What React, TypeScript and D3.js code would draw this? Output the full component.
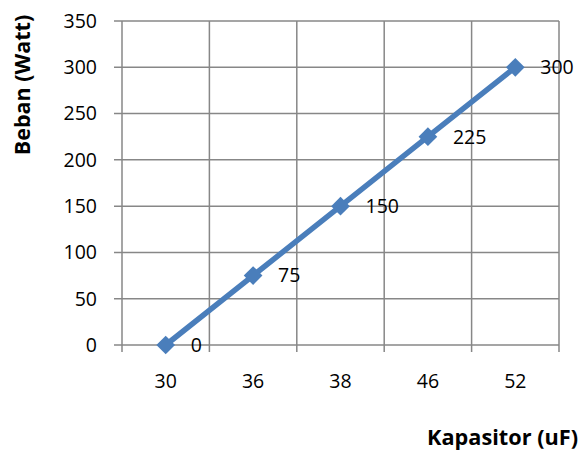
import React from "react";
import * as d3 from "d3";

const categories = ["30", "36", "38", "46", "52"];
const values = [0, 75, 150, 225, 300];
const yTicks = [0, 50, 100, 150, 200, 250, 300, 350];

const W = 582;
const H = 450;
const left = 122;
const right = 559;
const top = 21;
const bottom = 345;
const FONT = "'Open Sans', 'Liberation Sans', sans-serif";
const GRID = "#878787";
const BLUE = "#4A7EBB";

export default function App() {
  const x = d3.scaleBand<string>().domain(categories).range([left, right]).padding(0);
  const y = d3.scaleLinear().domain([0, 350]).range([bottom, top]);
  const cx = (c: string) => (x(c) as number) + x.bandwidth() / 2;
  const line = d3
    .line<number>()
    .x((_, i) => cx(categories[i]))
    .y((d) => y(d));
  const diamond = d3.symbol().type(d3.symbolSquare).size(175)() as string;
  const bounds = [...categories.map((c) => x(c) as number), right];

  return (
    <svg width={W} height={H} style={{ position: "absolute", left: 0, top: 0, background: "#fff" }}>
      {yTicks.map((t) => (
        <line key={"h" + t} x1={left - 8} x2={right} y1={y(t)} y2={y(t)} stroke={GRID} strokeWidth={1.5} />
      ))}
      {bounds.map((b, i) => (
        <line key={"v" + i} x1={b} x2={b} y1={top} y2={bottom + 7} stroke={GRID} strokeWidth={1.5} />
      ))}
      {yTicks.map((t) => (
        <text key={"yl" + t} x={97} y={y(t)} dy="0.35em" textAnchor="end" fontFamily={FONT} fontSize={19.5} fill="#000">
          {t}
        </text>
      ))}
      {categories.map((c) => (
        <text key={"xl" + c} x={cx(c)} y={381} dy="0.35em" textAnchor="middle" fontFamily={FONT} fontSize={19.5} fill="#000">
          {c}
        </text>
      ))}
      <path d={line(values) as string} fill="none" stroke={BLUE} strokeWidth={5.5} strokeLinejoin="round" />
      {values.map((v, i) => (
        <path
          key={"m" + i}
          d={diamond}
          transform={`translate(${cx(categories[i])},${y(v)}) rotate(45)`}
          fill={BLUE}
        />
      ))}
      {values.map((v, i) => (
        <text key={"dl" + i} x={cx(categories[i]) + 25} y={y(v)} dy="0.35em" fontFamily={FONT} fontSize={19.5} fill="#000">
          {v}
        </text>
      ))}
      <text
        transform={`translate(22,85) rotate(-90)`}
        textAnchor="middle"
        dy="0.35em"
        fontFamily={FONT}
        fontWeight="bold"
        fontSize={21.5}
        fill="#000"
      >
        Beban (Watt)
      </text>
      <text x={578} y={437} dy="0.35em" textAnchor="end" fontFamily={FONT} fontWeight="bold" fontSize={21.7} fill="#000">
        Kapasitor (uF)
      </text>
    </svg>
  );
}
